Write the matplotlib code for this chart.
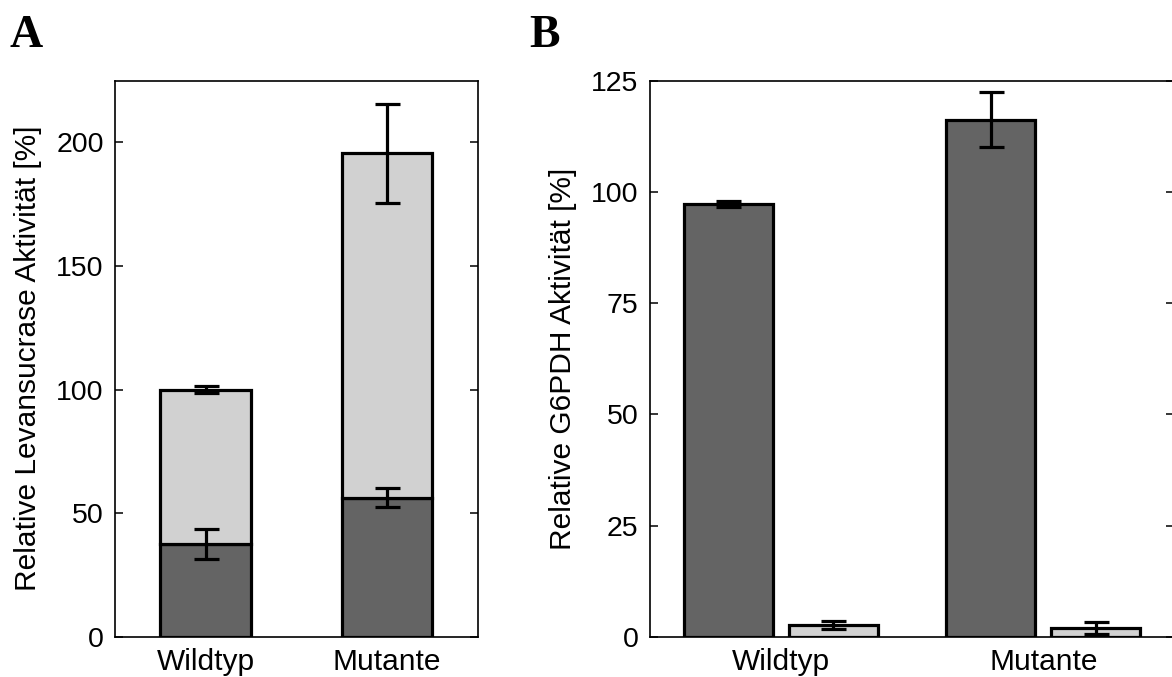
"""Levansucrase and G6PDH activity, wild type vs. mutant (panels A and B).

Saves ``out.png``.
"""

import matplotlib.pyplot as plt
import numpy as np

STRAINS = ["Wildtyp", "Mutante"]

# Panel A: stacked levansucrase activity (dark = intracellular, light = extracellular)
LEV_INTRA = [37.5, 56.3]
LEV_INTRA_ERR = [6.0, 4.0]
LEV_EXTRA = [62.5, 139.4]
LEV_TOTAL_ERR = [1.3, 20.0]

# Panel B: G6PDH activity, grouped
G6PDH_INTRA = [97.3, 116.2]
G6PDH_INTRA_ERR = [0.7, 6.2]
G6PDH_EXTRA = [2.6, 2.0]
G6PDH_EXTRA_ERR = [0.9, 1.35]

A_YTICKS = [0, 50, 100, 150, 200]
B_YTICKS = [0, 25, 50, 75, 100, 125]

DARK = "#646464"
LIGHT = "#d1d1d1"


def style_axes(ax, yticks, ylim):
    ax.set_xlim(0.5, 2.5)
    ax.set_ylim(*ylim)
    ax.set_yticks(yticks)
    ax.set_xticks([1, 2])
    ax.set_xticklabels(STRAINS)
    ax.tick_params(axis="y", direction="in", length=6, width=1.1, right=True,
                   labelsize=20.5, pad=8)
    ax.tick_params(axis="x", length=0, labelsize=21.5, pad=8)
    for sp in ax.spines.values():
        sp.set_linewidth(1.2)


def main():
    plt.rcParams["font.family"] = ["Liberation Sans", "DejaVu Sans"]
    fig = plt.figure(figsize=(11.72, 6.77), dpi=100)

    x = np.arange(1, len(STRAINS) + 1)
    bar_kw = dict(edgecolor="black", linewidth=2.3, zorder=2)
    err_kw = dict(fmt="none", ecolor="black", elinewidth=2.3, capsize=9,
                  capthick=2.3, zorder=3)

    # Panel A
    ax = fig.add_axes([0.0981, 0.0595, 0.3095, 0.8213])
    ax.bar(x, LEV_INTRA, width=0.5, color=DARK, **bar_kw)
    ax.bar(x, LEV_EXTRA, width=0.5, bottom=LEV_INTRA, color=LIGHT, **bar_kw)
    ax.errorbar(x, LEV_INTRA, yerr=LEV_INTRA_ERR, **err_kw)
    total = np.add(LEV_INTRA, LEV_EXTRA)
    ax.errorbar(x, total, yerr=LEV_TOTAL_ERR, **err_kw)
    style_axes(ax, A_YTICKS, (0, 225))
    ax.set_ylabel("Relative Levansucrase Aktivität [%]", fontsize=21.5, labelpad=10)

    # Panel B
    ax = fig.add_axes([0.5544, 0.0595, 0.4477, 0.8213])
    off, w = 0.2, 0.34
    ax.bar(x - off, G6PDH_INTRA, width=w, color=DARK, **bar_kw)
    ax.bar(x + off, G6PDH_EXTRA, width=w, color=LIGHT, **bar_kw)
    ax.errorbar(x - off, G6PDH_INTRA, yerr=G6PDH_INTRA_ERR, **err_kw)
    ax.errorbar(x + off, G6PDH_EXTRA, yerr=G6PDH_EXTRA_ERR, **err_kw)
    style_axes(ax, B_YTICKS, (0, 125))
    ax.set_ylabel("Relative G6PDH Aktivität [%]", fontsize=21.5, labelpad=10)

    serif = ["Liberation Serif", "DejaVu Serif"]
    fig.text(9 / 1172, 1 - 47 / 677, "A", family=serif, weight="bold",
             fontsize=33, ha="left", va="baseline")
    fig.text(529 / 1172, 1 - 47 / 677, "B", family=serif, weight="bold",
             fontsize=33, ha="left", va="baseline")

    fig.savefig("out.png", dpi=100)
    plt.close(fig)


if __name__ == "__main__":
    main()
